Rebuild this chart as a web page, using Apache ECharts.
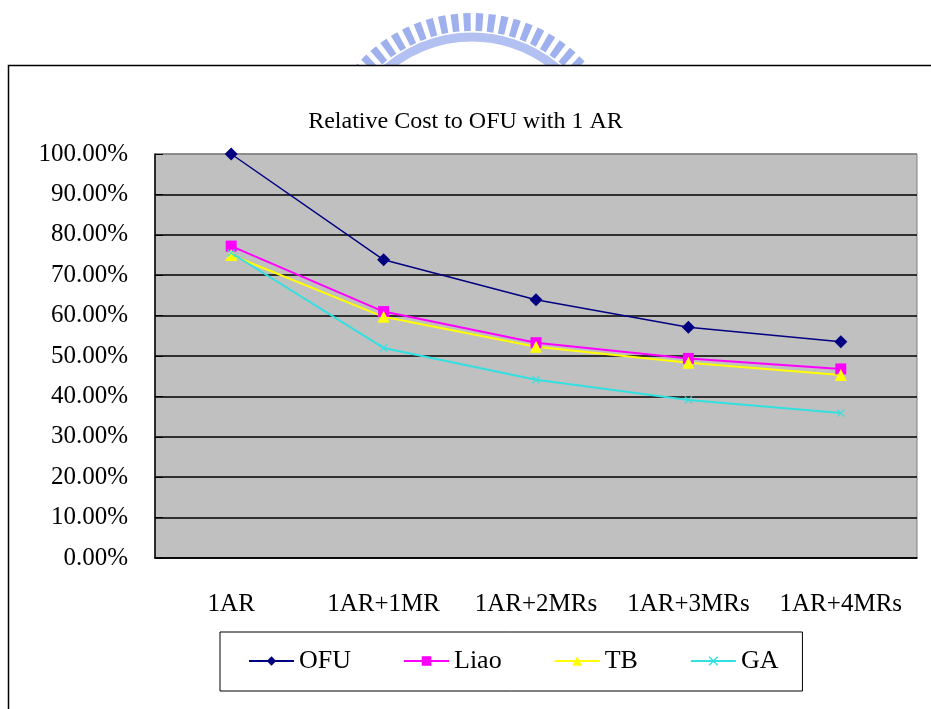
<!DOCTYPE html>
<html>
<head>
<meta charset="utf-8">
<style>
  html, body { margin: 0; padding: 0; background: #fff; }
  #chart { width: 931px; height: 709px; }
</style>
<script src="https://cdn.jsdelivr.net/npm/echarts@6/dist/echarts.min.js"></script>
</head>
<body>
<div id="chart"></div>
<script>
var categories = ['1AR', '1AR+1MR', '1AR+2MRs', '1AR+3MRs', '1AR+4MRs'];
var ofu = [100, 73.8, 63.9, 57.1, 53.5];
var liao = [77.2, 61.0, 53.3, 49.4, 46.8];
var tb = [75.0, 59.7, 52.3, 48.3, 45.3];
var ga = [75.5, 52.0, 44.1, 39.1, 35.9];

(function() {
  var font = 'Liberation Serif';
  var crossPath = 'path://M1,0L5,4L9,0L10,1L6,5L10,9L9,10L5,6L1,10L0,9L4,5L0,1Z';
  // top gridline (100%) is grey, the rest black
  var gridColors = ['#000', '#000', '#000', '#000', '#000', '#000', '#000', '#000', '#000', '#000', '#808080'];

  function line(name, data, color, symbol, size, width) {
    return {
      name: name,
      type: 'line',
      data: data,
      symbol: symbol,
      symbolSize: size,
      showSymbol: true,
      lineStyle: { color: color, width: width },
      itemStyle: { color: color }
    };
  }

  var chart = echarts.init(document.getElementById('chart'), null, { renderer: 'canvas' });
  chart.setOption({
    animation: false,
    backgroundColor: '#fff',
    textStyle: { fontFamily: font, color: '#000' },
    graphic: [
      // watermark arc at the top
      {
        type: 'arc', z: -10,
        shape: { cx: 472, cy: 168, r: 146, startAngle: -2.45, endAngle: -0.69 },
        style: { fill: null, stroke: '#9fb0ee', lineWidth: 18, lineDash: [7, 5] }
      },
      {
        type: 'arc', z: -10,
        shape: { cx: 472, cy: 168, r: 131, startAngle: -2.45, endAngle: -0.69 },
        style: { fill: null, stroke: '#b3c0f2', lineWidth: 9 }
      },
      // chart area frame
      {
        type: 'rect', z: -5,
        shape: { x: 8.5, y: 65.5, width: 940, height: 680 },
        style: { fill: '#fff', stroke: '#000', lineWidth: 1.5 }
      }
    ],
    title: {
      text: 'Relative Cost to OFU with 1 AR',
      left: 'center',
      top: 105,
      textStyle: { fontFamily: font, fontSize: 24, fontWeight: 'normal', color: '#000' }
    },
    legend: {
      data: ['OFU', 'Liao', 'TB', 'GA'],
      left: 220,
      top: 632,
      padding: [16, 24, 17, 28],
      itemGap: 52,
      itemWidth: 45,
      itemHeight: 12,
      borderColor: '#000',
      borderWidth: 1,
      textStyle: { fontFamily: font, fontSize: 26, color: '#000' }
    },
    grid: {
      left: 155,
      right: 14,
      top: 154,
      bottom: 151,
      show: true,
      backgroundColor: '#c0c0c0',
      borderColor: '#808080',
      borderWidth: 1
    },
    xAxis: {
      type: 'category',
      data: categories,
      boundaryGap: true,
      axisLine: { lineStyle: { color: '#000', width: 1.5 } },
      axisTick: { inside: true, length: 6, lineStyle: { color: '#000' } },
      axisLabel: { interval: 0, fontFamily: font, fontSize: 25, color: '#000', margin: 34 }
    },
    yAxis: {
      type: 'value',
      min: 0,
      max: 100,
      interval: 10,
      axisLine: { show: true, lineStyle: { color: '#000', width: 1.5 } },
      axisTick: { show: true, inside: true, length: 8, lineStyle: { color: '#000' } },
      splitLine: { lineStyle: { color: gridColors, width: 1.5 } },
      axisLabel: {
        fontFamily: font, fontSize: 25, color: '#000', margin: 27,
        formatter: function(v) { return v.toFixed(2) + '%'; }
      }
    },
    series: [
      line('OFU', ofu, '#000080', 'diamond', 13, 1.5),
      line('Liao', liao, '#ff00ff', 'rect', 11, 2),
      line('TB', tb, '#ffff00', 'triangle', 12, 2),
      line('GA', ga, '#33e0e0', crossPath, 8, 2)
    ]
  });
  window.addEventListener('resize', function() { chart.resize(); });
})();
</script>
</body>
</html>
